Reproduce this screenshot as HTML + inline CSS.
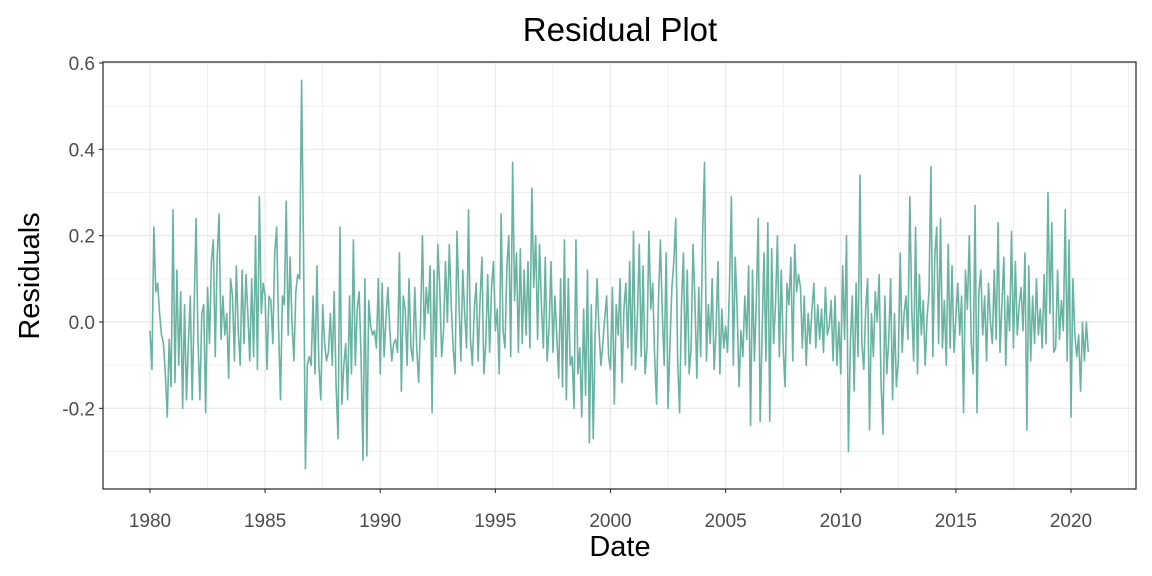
<!DOCTYPE html>
<html><head><meta charset="utf-8"><style>
html,body{margin:0;padding:0;background:#fff;}
svg{display:block;font-family:"Liberation Sans",Arial,sans-serif;}
</style></head><body>
<svg id="chart" width="1152" height="576"></svg>
<script>
const yearStart = 1980;
const residuals = [
-0.02,-0.11,0.22,0.07,0.09,0.02,-0.03,-0.05,-0.12,-0.22,-0.04,-0.15,
0.26,-0.14,0.12,-0.10,0.07,-0.20,0.04,-0.18,-0.05,0.06,-0.18,0.03,
0.24,-0.04,-0.18,0.02,0.04,-0.21,0.08,-0.05,0.14,0.19,-0.08,0.15,
0.25,-0.04,0.06,-0.03,0.02,-0.13,0.10,0.06,-0.09,0.13,-0.02,-0.10,
0.12,-0.05,0.11,0.02,-0.09,0.10,-0.08,0.20,-0.11,0.29,0.02,0.09,
0.06,-0.11,0.06,0.05,-0.05,0.16,0.22,-0.01,-0.18,0.06,0.04,0.28,
-0.03,0.15,0.00,-0.09,0.07,0.11,0.10,0.56,0.18,-0.34,-0.10,-0.08,
-0.10,0.06,-0.12,0.13,-0.10,-0.18,0.04,-0.05,-0.09,-0.07,0.02,-0.10,
0.07,-0.15,-0.27,0.22,-0.19,-0.10,-0.05,-0.18,0.06,-0.12,0.19,-0.10,
0.03,0.07,-0.08,-0.32,0.10,-0.31,0.05,-0.01,-0.03,-0.02,-0.06,0.10,
-0.12,0.09,-0.08,0.01,0.08,-0.02,-0.09,-0.05,-0.04,-0.07,0.16,-0.16,
0.06,0.03,-0.10,0.10,-0.06,-0.09,0.08,-0.06,-0.14,0.00,0.20,-0.04,
0.08,0.02,0.13,-0.21,0.12,-0.08,0.18,0.08,-0.08,-0.02,0.14,0.00,
0.18,0.04,-0.06,-0.12,0.21,0.05,-0.09,0.12,0.02,-0.06,0.26,-0.04,
-0.10,0.03,0.09,-0.09,0.05,0.15,-0.12,-0.05,0.11,-0.07,0.08,0.14,
-0.02,0.03,-0.12,0.25,-0.02,-0.06,0.13,0.20,-0.08,0.37,0.05,0.16,
-0.07,0.17,-0.05,0.12,-0.03,0.14,-0.06,0.31,0.08,0.20,-0.04,0.18,
0.04,-0.06,0.15,-0.09,-0.01,0.14,-0.07,0.06,-0.03,-0.13,0.10,-0.15,
0.19,-0.18,0.10,-0.10,-0.08,-0.20,0.19,-0.12,-0.06,-0.22,0.03,-0.17,
0.12,-0.28,0.04,-0.27,-0.03,0.10,-0.02,-0.10,-0.05,0.01,0.06,-0.08,
-0.11,0.08,-0.19,0.04,-0.03,0.10,-0.14,0.03,0.09,-0.06,0.14,-0.10,
0.21,-0.11,0.01,0.18,-0.08,0.13,-0.12,-0.06,0.21,0.03,0.09,-0.08,
-0.19,0.05,0.19,0.02,-0.10,0.16,-0.20,-0.05,0.08,0.14,0.24,-0.09,
-0.21,0.04,0.16,-0.10,0.12,-0.12,-0.06,0.18,0.05,-0.13,0.08,-0.08,
0.20,0.37,-0.09,0.04,-0.05,0.10,-0.11,-0.02,0.14,-0.12,0.03,-0.06,
-0.01,-0.07,0.08,0.29,-0.10,0.15,0.03,-0.15,-0.02,-0.08,0.06,-0.04,
0.13,-0.24,0.12,-0.09,0.05,0.24,-0.23,-0.03,0.16,-0.09,0.23,-0.23,
0.17,-0.05,0.04,0.20,-0.08,0.12,-0.06,-0.15,0.09,0.04,0.15,-0.09,
0.18,0.07,0.11,0.08,-0.06,0.06,-0.10,0.02,-0.05,0.03,0.09,-0.06,
0.04,-0.04,0.03,-0.07,0.08,-0.03,-0.01,0.05,-0.09,0.06,-0.10,0.00,
-0.12,0.13,-0.04,0.20,-0.30,-0.05,0.06,-0.16,0.09,-0.08,0.34,-0.05,
-0.11,0.03,0.10,-0.25,0.02,-0.08,0.07,0.00,0.11,-0.14,-0.26,0.06,
-0.12,-0.04,0.10,-0.18,0.02,-0.15,-0.09,0.16,-0.07,0.02,0.06,-0.04,
0.29,0.03,-0.09,0.22,-0.12,0.11,-0.03,0.05,-0.10,0.01,0.07,0.36,
-0.08,0.15,0.22,-0.05,0.24,-0.06,0.05,-0.10,0.18,-0.06,0.13,-0.07,
0.01,0.09,-0.03,0.06,-0.21,0.12,0.03,0.20,-0.05,-0.12,0.27,-0.21,
0.07,0.12,-0.03,0.06,-0.09,0.09,0.00,-0.05,0.12,-0.04,0.23,-0.07,
0.04,0.15,-0.10,0.06,-0.02,0.21,-0.06,0.14,-0.03,0.04,0.08,-0.02,
0.16,-0.25,0.13,-0.09,0.06,-0.05,0.10,-0.03,0.03,-0.06,0.11,-0.05,
0.30,0.02,0.23,-0.07,-0.06,0.12,-0.04,0.05,-0.02,0.26,-0.09,0.19,
-0.22,0.10,-0.03,-0.08,-0.03,-0.16,0.00,-0.09,0.00,-0.07
];
const yTicks = [-0.2, 0.0, 0.2, 0.4, 0.6];
const yTickLabels = ["-0.2","0.0","0.2","0.4","0.6"];
const yMinor = [-0.3,-0.1,0.1,0.3,0.5];
const xTicks = [1980,1985,1990,1995,2000,2005,2010,2015,2020];
const xMinor = [1982.5,1987.5,1992.5,1997.5,2002.5,2007.5,2012.5,2017.5,2022.5];

const L=103,R=1136,T=62,B=489;
const xS = v => 150 + (v-1980)*(1071-150)/40;
const yS = v => 322 - v*(322-63)/0.6;
const svg=document.getElementById('chart');
const NS='http://www.w3.org/2000/svg';
function mk(tag,attrs,parent){const e=document.createElementNS(NS,tag);for(const k in attrs)e.setAttribute(k,attrs[k]);(parent||svg).appendChild(e);return e;}

const grid=mk('g',{});


yMinor.forEach(v=>mk('line',{x1:L,x2:R,y1:yS(v),y2:yS(v),stroke:'#ebebeb','stroke-width':0.7},grid));
xMinor.forEach(v=>{if(xS(v)<R)mk('line',{x1:xS(v),x2:xS(v),y1:T,y2:B,stroke:'#ebebeb','stroke-width':0.7},grid);});
yTicks.forEach(v=>mk('line',{x1:L,x2:R,y1:yS(v),y2:yS(v),stroke:'#ebebeb','stroke-width':1.4},grid));
xTicks.forEach(v=>mk('line',{x1:xS(v),x2:xS(v),y1:T,y2:B,stroke:'#ebebeb','stroke-width':1.4},grid));

const pts=residuals.map((r,i)=>xS(yearStart+i/12).toFixed(2)+','+yS(r).toFixed(2)).join(' ');
const line=mk('polyline',{points:pts,fill:'none',stroke:'#69b3a2','stroke-width':1.6,'stroke-linejoin':'round'});



const border=mk('rect',{x:L,y:T,width:R-L,height:B-T,fill:'none',stroke:'#333','stroke-width':1.3});



const yax=mk('g',{});


yTicks.forEach((v,i)=>{
  mk('line',{x1:L-4,x2:L,y1:yS(v),y2:yS(v),stroke:'#333','stroke-width':1.1},yax);
  const t=mk('text',{x:L-8,y:yS(v)+7,'text-anchor':'end','font-size':19,fill:'#4d4d4d'},yax);
  t.textContent=yTickLabels[i];
  
  
});
const xax=mk('g',{});


xTicks.forEach(v=>{
  mk('line',{x1:xS(v),x2:xS(v),y1:B,y2:B+4,stroke:'#333','stroke-width':1.1},xax);
  const t=mk('text',{x:xS(v),y:B+38,'text-anchor':'middle','font-size':19,fill:'#4d4d4d'},xax);
  t.textContent=v;
  
  
});
const title=mk('text',{x:620,y:41,'text-anchor':'middle','font-size':33,fill:'#000'});
title.textContent='Residual Plot';


const xt=mk('text',{x:620,y:556,'text-anchor':'middle','font-size':29,fill:'#000'});
xt.textContent='Date';


const yt=mk('text',{x:0,y:0,'text-anchor':'middle','font-size':29,fill:'#000',transform:'translate(39,276) rotate(-90)'});
yt.textContent='Residuals';


</script>
</body></html>
